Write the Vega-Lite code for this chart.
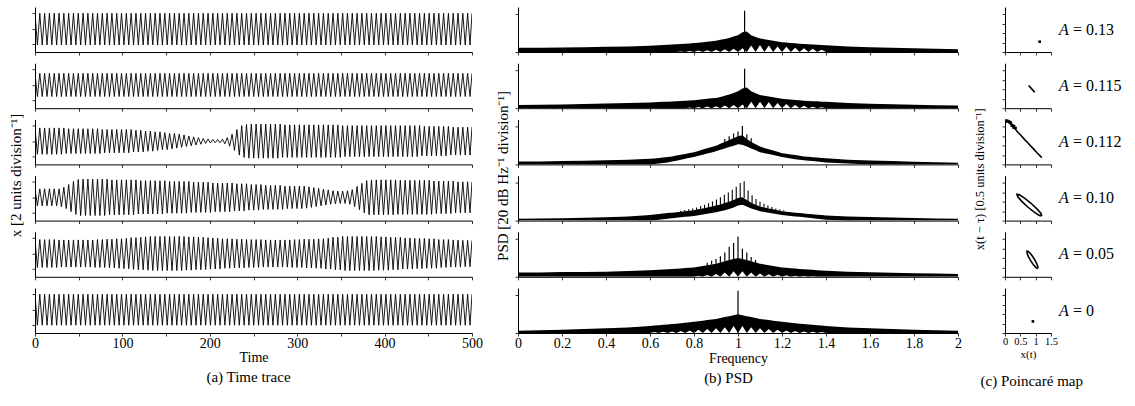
{
"padding":{"left":8,"top":7,"right":2,"bottom":2},
"config":{
"view":{"stroke":null},
"axis":{"domainColor":"black","domainWidth":1,"tickColor":"black","tickWidth":0.8,"tickSize":3,"grid":false,"labelFont":"Liberation Serif","labelFontSize":14,"labelColor":"black","labelFlush":false,"labelOverlap":false,"labelPadding":0,"titleFont":"Liberation Serif","titleFontSize":14,"titleFontWeight":"normal","titleColor":"black","titlePadding":0},
"title":{"font":"Liberation Serif","fontWeight":"normal","color":"black"}
},
"datasets":{
"tt":[
{"t":0,"a":2,"b":1.5,"c":1.7,"d":1.1,"e":1.8,"f":2},
{"t":2.75,"a":-2.1,"b":-1.5,"c":-1.7,"d":-1.1,"e":-1.8,"f":-2},
{"t":5.5,"a":2,"b":1.5,"c":1.7,"d":1.1,"e":1.8,"f":2},
{"t":8.25,"a":-2.1,"b":-1.5,"c":-1.7,"d":-1.1,"e":-1.8,"f":-2},
{"t":11,"a":2,"b":1.5,"c":1.7,"d":1.1,"e":1.8,"f":2},
{"t":13.75,"a":-2.1,"b":-1.5,"c":-1.7,"d":-1.1,"e":-1.8,"f":-2},
{"t":16.5,"a":2,"b":1.5,"c":1.7,"d":1.1,"e":1.8,"f":2},
{"t":19.25,"a":-2.1,"b":-1.5,"c":-1.7,"d":-1.1,"e":-1.8,"f":-2},
{"t":22,"a":2,"b":1.5,"c":1.7,"d":1.1,"e":1.8,"f":2},
{"t":24.75,"a":-2.1,"b":-1.5,"c":-1.7,"d":-1.1,"e":-1.8,"f":-2},
{"t":27.5,"a":2,"b":1.5,"c":1.7,"d":1.1,"e":1.75,"f":2},
{"t":30.25,"a":-2.1,"b":-1.5,"c":-1.7,"d":-1.2,"e":-1.75,"f":-2},
{"t":33,"a":2,"b":1.5,"c":1.7,"d":1.3,"e":1.75,"f":2},
{"t":35.75,"a":-2.1,"b":-1.5,"c":-1.6,"d":-1.45,"e":-1.75,"f":-2},
{"t":38.5,"a":2,"b":1.5,"c":1.6,"d":1.65,"e":1.75,"f":2},
{"t":41.25,"a":-2.1,"b":-1.5,"c":-1.6,"d":-1.85,"e":-1.75,"f":-2},
{"t":44,"a":2,"b":1.5,"c":1.6,"d":2.05,"e":1.75,"f":2},
{"t":46.75,"a":-2.1,"b":-1.5,"c":-1.6,"d":-2.2,"e":-1.75,"f":-2},
{"t":49.5,"a":2,"b":1.5,"c":1.6,"d":2.3,"e":1.75,"f":2},
{"t":52.25,"a":-2.1,"b":-1.5,"c":-1.6,"d":-2.35,"e":-1.75,"f":-2},
{"t":55,"a":2,"b":1.5,"c":1.6,"d":2.35,"e":1.75,"f":2},
{"t":57.75,"a":-2.1,"b":-1.5,"c":-1.6,"d":-2.35,"e":-1.75,"f":-2},
{"t":60.5,"a":2,"b":1.5,"c":1.6,"d":2.35,"e":1.75,"f":2},
{"t":63.25,"a":-2.1,"b":-1.5,"c":-1.6,"d":-2.35,"e":-1.75,"f":-2},
{"t":66,"a":2,"b":1.5,"c":1.6,"d":2.35,"e":1.75,"f":2},
{"t":68.75,"a":-2.1,"b":-1.5,"c":-1.6,"d":-2.35,"e":-1.8,"f":-2},
{"t":71.5,"a":2,"b":1.5,"c":1.6,"d":2.35,"e":1.8,"f":2},
{"t":74.25,"a":-2.1,"b":-1.5,"c":-1.6,"d":-2.35,"e":-1.8,"f":-2},
{"t":77,"a":2,"b":1.5,"c":1.5,"d":2.35,"e":1.8,"f":2},
{"t":79.75,"a":-2.1,"b":-1.5,"c":-1.5,"d":-2.35,"e":-1.8,"f":-2},
{"t":82.5,"a":2,"b":1.5,"c":1.5,"d":2.35,"e":1.85,"f":2},
{"t":85.25,"a":-2.1,"b":-1.5,"c":-1.5,"d":-2.25,"e":-1.85,"f":-2},
{"t":88,"a":2,"b":1.5,"c":1.5,"d":2.25,"e":1.85,"f":2},
{"t":90.75,"a":-2.1,"b":-1.5,"c":-1.5,"d":-2.25,"e":-1.85,"f":-2},
{"t":93.5,"a":2,"b":1.5,"c":1.5,"d":2.25,"e":1.9,"f":2},
{"t":96.25,"a":-2.1,"b":-1.5,"c":-1.5,"d":-2.25,"e":-1.9,"f":-2},
{"t":99,"a":2,"b":1.5,"c":1.5,"d":2.25,"e":1.9,"f":2},
{"t":101.75,"a":-2.1,"b":-1.5,"c":-1.5,"d":-2.25,"e":-1.95,"f":-2},
{"t":104.5,"a":2,"b":1.5,"c":1.5,"d":2.25,"e":1.95,"f":2},
{"t":107.25,"a":-2.1,"b":-1.5,"c":-1.5,"d":-2.25,"e":-1.95,"f":-2},
{"t":110,"a":2,"b":1.5,"c":1.5,"d":2.25,"e":2.05,"f":2},
{"t":112.75,"a":-2.1,"b":-1.5,"c":-1.4,"d":-2.25,"e":-2.05,"f":-2},
{"t":115.5,"a":2,"b":1.5,"c":1.4,"d":2.25,"e":2.05,"f":2},
{"t":118.25,"a":-2.1,"b":-1.5,"c":-1.4,"d":-2.15,"e":-2.1,"f":-2},
{"t":121,"a":2,"b":1.5,"c":1.4,"d":2.15,"e":2.1,"f":2},
{"t":123.75,"a":-2.1,"b":-1.5,"c":-1.4,"d":-2.15,"e":-2.1,"f":-2},
{"t":126.5,"a":2,"b":1.5,"c":1.3,"d":2.15,"e":2.15,"f":2},
{"t":129.25,"a":-2.1,"b":-1.5,"c":-1.3,"d":-2.15,"e":-2.15,"f":-2},
{"t":132,"a":2,"b":1.5,"c":1.3,"d":2.15,"e":2.2,"f":2},
{"t":134.75,"a":-2.1,"b":-1.5,"c":-1.3,"d":-2.15,"e":-2.2,"f":-2},
{"t":137.5,"a":2,"b":1.5,"c":1.2,"d":2.15,"e":2.2,"f":2},
{"t":140.25,"a":-2.1,"b":-1.5,"c":-1.2,"d":-2.15,"e":-2.2,"f":-2},
{"t":143,"a":2,"b":1.5,"c":1.2,"d":2.15,"e":2.2,"f":2},
{"t":145.75,"a":-2.1,"b":-1.5,"c":-1.1,"d":-2.15,"e":-2.2,"f":-2},
{"t":148.5,"a":2,"b":1.5,"c":1.1,"d":2.15,"e":2.2,"f":2},
{"t":151.25,"a":-2.1,"b":-1.5,"c":-1.1,"d":-2.05,"e":-2.2,"f":-2},
{"t":154,"a":2,"b":1.5,"c":1,"d":2.05,"e":2.2,"f":2},
{"t":156.75,"a":-2.1,"b":-1.5,"c":-1,"d":-2.05,"e":-2.2,"f":-2},
{"t":159.5,"a":2,"b":1.5,"c":1,"d":2.05,"e":2.2,"f":2},
{"t":162.25,"a":-2.1,"b":-1.5,"c":-0.9,"d":-2.05,"e":-2.2,"f":-2},
{"t":165,"a":2,"b":1.5,"c":0.9,"d":2.05,"e":2.2,"f":2},
{"t":167.75,"a":-2.1,"b":-1.5,"c":-0.8,"d":-2.05,"e":-2.2,"f":-2},
{"t":170.5,"a":2,"b":1.5,"c":0.8,"d":2.05,"e":2.2,"f":2},
{"t":173.25,"a":-2.1,"b":-1.5,"c":-0.7,"d":-2.05,"e":-2.15,"f":-2},
{"t":176,"a":2,"b":1.5,"c":0.65,"d":2.05,"e":2.15,"f":2},
{"t":178.75,"a":-2.1,"b":-1.5,"c":-0.6,"d":-1.95,"e":-2.15,"f":-2},
{"t":181.5,"a":2,"b":1.5,"c":0.55,"d":1.95,"e":2.15,"f":2},
{"t":184.25,"a":-2.1,"b":-1.5,"c":-0.5,"d":-1.95,"e":-2.1,"f":-2},
{"t":187,"a":2,"b":1.5,"c":0.45,"d":1.95,"e":2.1,"f":2},
{"t":189.75,"a":-2.1,"b":-1.5,"c":-0.4,"d":-1.95,"e":-2.1,"f":-2},
{"t":192.5,"a":2,"b":1.5,"c":0.35,"d":1.95,"e":2.1,"f":2},
{"t":195.25,"a":-2.1,"b":-1.5,"c":-0.3,"d":-1.95,"e":-2.05,"f":-2},
{"t":198,"a":2,"b":1.5,"c":0.28,"d":1.95,"e":2.05,"f":2},
{"t":200.75,"a":-2.1,"b":-1.5,"c":-0.25,"d":-1.95,"e":-2,"f":-2},
{"t":203.5,"a":2,"b":1.5,"c":0.22,"d":1.85,"e":2,"f":2},
{"t":206.25,"a":-2.1,"b":-1.5,"c":-0.2,"d":-1.85,"e":-2,"f":-2},
{"t":209,"a":2,"b":1.5,"c":0.2,"d":1.85,"e":2,"f":2},
{"t":211.75,"a":-2.1,"b":-1.5,"c":-0.22,"d":-1.85,"e":-2,"f":-2},
{"t":214.5,"a":2,"b":1.5,"c":0.25,"d":1.85,"e":1.9,"f":2},
{"t":217.25,"a":-2.1,"b":-1.5,"c":-0.35,"d":-1.85,"e":-1.9,"f":-2},
{"t":220,"a":2,"b":1.5,"c":0.45,"d":1.85,"e":1.9,"f":2},
{"t":222.75,"a":-2.1,"b":-1.5,"c":-0.65,"d":-1.85,"e":-1.9,"f":-2},
{"t":225.5,"a":2,"b":1.5,"c":0.9,"d":1.85,"e":1.9,"f":2},
{"t":228.25,"a":-2.1,"b":-1.5,"c":-1.2,"d":-1.75,"e":-1.85,"f":-2},
{"t":231,"a":2,"b":1.5,"c":1.5,"d":1.75,"e":1.85,"f":2},
{"t":233.75,"a":-2.1,"b":-1.5,"c":-1.8,"d":-1.75,"e":-1.85,"f":-2},
{"t":236.5,"a":2,"b":1.5,"c":2,"d":1.75,"e":1.85,"f":2},
{"t":239.25,"a":-2.1,"b":-1.5,"c":-2.1,"d":-1.75,"e":-1.85,"f":-2},
{"t":242,"a":2,"b":1.5,"c":2.15,"d":1.75,"e":1.8,"f":2},
{"t":244.75,"a":-2.1,"b":-1.5,"c":-2.2,"d":-1.65,"e":-1.8,"f":-2},
{"t":247.5,"a":2,"b":1.5,"c":2.2,"d":1.65,"e":1.8,"f":2},
{"t":250.25,"a":-2.1,"b":-1.5,"c":-2.2,"d":-1.65,"e":-1.8,"f":-2},
{"t":253,"a":2,"b":1.5,"c":2.2,"d":1.65,"e":1.8,"f":2},
{"t":255.75,"a":-2.1,"b":-1.5,"c":-2.2,"d":-1.65,"e":-1.8,"f":-2},
{"t":258.5,"a":2,"b":1.5,"c":2.2,"d":1.65,"e":1.8,"f":2},
{"t":261.25,"a":-2.1,"b":-1.5,"c":-2.2,"d":-1.55,"e":-1.75,"f":-2},
{"t":264,"a":2,"b":1.5,"c":2.2,"d":1.55,"e":1.75,"f":2},
{"t":266.75,"a":-2.1,"b":-1.5,"c":-2.2,"d":-1.55,"e":-1.75,"f":-2},
{"t":269.5,"a":2,"b":1.5,"c":2.2,"d":1.55,"e":1.75,"f":2},
{"t":272.25,"a":-2.1,"b":-1.5,"c":-2.2,"d":-1.55,"e":-1.75,"f":-2},
{"t":275,"a":2,"b":1.5,"c":2.2,"d":1.55,"e":1.75,"f":2},
{"t":277.75,"a":-2.1,"b":-1.5,"c":-2.2,"d":-1.55,"e":-1.75,"f":-2},
{"t":280.5,"a":2,"b":1.5,"c":2.2,"d":1.55,"e":1.75,"f":2},
{"t":283.25,"a":-2.1,"b":-1.5,"c":-2.1,"d":-1.55,"e":-1.75,"f":-2},
{"t":286,"a":2,"b":1.5,"c":2.1,"d":1.45,"e":1.75,"f":2},
{"t":288.75,"a":-2.1,"b":-1.5,"c":-2.1,"d":-1.45,"e":-1.75,"f":-2},
{"t":291.5,"a":2,"b":1.5,"c":2.1,"d":1.45,"e":1.75,"f":2},
{"t":294.25,"a":-2.1,"b":-1.5,"c":-2.1,"d":-1.45,"e":-1.8,"f":-2},
{"t":297,"a":2,"b":1.5,"c":2.1,"d":1.45,"e":1.8,"f":2},
{"t":299.75,"a":-2.1,"b":-1.5,"c":-2.1,"d":-1.45,"e":-1.8,"f":-2},
{"t":302.5,"a":2,"b":1.5,"c":2.1,"d":1.45,"e":1.8,"f":2},
{"t":305.25,"a":-2.1,"b":-1.5,"c":-2.1,"d":-1.45,"e":-1.8,"f":-2},
{"t":308,"a":2,"b":1.5,"c":2.1,"d":1.45,"e":1.85,"f":2},
{"t":310.75,"a":-2.1,"b":-1.5,"c":-2.1,"d":-1.4,"e":-1.85,"f":-2},
{"t":313.5,"a":2,"b":1.5,"c":2.1,"d":1.35,"e":1.85,"f":2},
{"t":316.25,"a":-2.1,"b":-1.5,"c":-2.1,"d":-1.3,"e":-1.85,"f":-2},
{"t":319,"a":2,"b":1.5,"c":2.1,"d":1.25,"e":1.85,"f":2},
{"t":321.75,"a":-2.1,"b":-1.5,"c":-2.1,"d":-1.2,"e":-1.9,"f":-2},
{"t":324.5,"a":2,"b":1.5,"c":2.1,"d":1.15,"e":1.9,"f":2},
{"t":327.25,"a":-2.1,"b":-1.5,"c":-2.1,"d":-1.1,"e":-1.9,"f":-2},
{"t":330,"a":2,"b":1.5,"c":2.1,"d":1.05,"e":1.9,"f":2},
{"t":332.75,"a":-2.1,"b":-1.5,"c":-2.1,"d":-1,"e":-2,"f":-2},
{"t":335.5,"a":2,"b":1.5,"c":2.1,"d":0.95,"e":2,"f":2},
{"t":338.25,"a":-2.1,"b":-1.5,"c":-2.1,"d":-0.9,"e":-2,"f":-2},
{"t":341,"a":2,"b":1.5,"c":2.1,"d":0.85,"e":2.1,"f":2},
{"t":343.75,"a":-2.1,"b":-1.5,"c":-2.1,"d":-0.85,"e":-2.1,"f":-2},
{"t":346.5,"a":2,"b":1.5,"c":2.1,"d":0.8,"e":2.1,"f":2},
{"t":349.25,"a":-2.1,"b":-1.5,"c":-2.1,"d":-0.8,"e":-2.1,"f":-2},
{"t":352,"a":2,"b":1.5,"c":2,"d":0.8,"e":2.2,"f":2},
{"t":354.75,"a":-2.1,"b":-1.5,"c":-2,"d":-0.8,"e":-2.2,"f":-2},
{"t":357.5,"a":2,"b":1.5,"c":2,"d":0.85,"e":2.2,"f":2},
{"t":360.25,"a":-2.1,"b":-1.5,"c":-2,"d":-0.9,"e":-2.2,"f":-2},
{"t":363,"a":2,"b":1.5,"c":2,"d":1,"e":2.2,"f":2},
{"t":365.75,"a":-2.1,"b":-1.5,"c":-2,"d":-1.2,"e":-2.2,"f":-2},
{"t":368.5,"a":2,"b":1.5,"c":2,"d":1.4,"e":2.2,"f":2},
{"t":371.25,"a":-2.1,"b":-1.5,"c":-2,"d":-1.6,"e":-2.2,"f":-2},
{"t":374,"a":2,"b":1.5,"c":2,"d":1.8,"e":2.2,"f":2},
{"t":376.75,"a":-2.1,"b":-1.5,"c":-2,"d":-2,"e":-2.2,"f":-2},
{"t":379.5,"a":2,"b":1.5,"c":2,"d":2.15,"e":2.2,"f":2},
{"t":382.25,"a":-2.1,"b":-1.5,"c":-2,"d":-2.25,"e":-2.2,"f":-2},
{"t":385,"a":2,"b":1.5,"c":2,"d":2.25,"e":2.2,"f":2},
{"t":387.75,"a":-2.1,"b":-1.5,"c":-2,"d":-2.25,"e":-2.2,"f":-2},
{"t":390.5,"a":2,"b":1.5,"c":2,"d":2.25,"e":2.2,"f":2},
{"t":393.25,"a":-2.1,"b":-1.5,"c":-2,"d":-2.25,"e":-2.15,"f":-2},
{"t":396,"a":2,"b":1.5,"c":2,"d":2.25,"e":2.15,"f":2},
{"t":398.75,"a":-2.1,"b":-1.5,"c":-2,"d":-2.25,"e":-2.15,"f":-2},
{"t":401.5,"a":2,"b":1.5,"c":2,"d":2.25,"e":2.15,"f":2},
{"t":404.25,"a":-2.1,"b":-1.5,"c":-2,"d":-2.25,"e":-2.15,"f":-2},
{"t":407,"a":2,"b":1.5,"c":2,"d":2.25,"e":2.1,"f":2},
{"t":409.75,"a":-2.1,"b":-1.5,"c":-2,"d":-2.25,"e":-2.1,"f":-2},
{"t":412.5,"a":2,"b":1.5,"c":2,"d":2.25,"e":2.1,"f":2},
{"t":415.25,"a":-2.1,"b":-1.5,"c":-2,"d":-2.2,"e":-2.1,"f":-2},
{"t":418,"a":2,"b":1.5,"c":2,"d":2.2,"e":2.1,"f":2},
{"t":420.75,"a":-2.1,"b":-1.5,"c":-2,"d":-2.2,"e":-2,"f":-2},
{"t":423.5,"a":2,"b":1.5,"c":2,"d":2.2,"e":2,"f":2},
{"t":426.25,"a":-2.1,"b":-1.5,"c":-2,"d":-2.2,"e":-2,"f":-2},
{"t":429,"a":2,"b":1.5,"c":2,"d":2.2,"e":2,"f":2},
{"t":431.75,"a":-2.1,"b":-1.5,"c":-2,"d":-2.2,"e":-2,"f":-2},
{"t":434.5,"a":2,"b":1.5,"c":2,"d":2.2,"e":1.95,"f":2},
{"t":437.25,"a":-2.1,"b":-1.5,"c":-2,"d":-2.2,"e":-1.95,"f":-2},
{"t":440,"a":2,"b":1.5,"c":2,"d":2.2,"e":1.95,"f":2},
{"t":442.75,"a":-2.1,"b":-1.5,"c":-1.9,"d":-2.2,"e":-1.95,"f":-2},
{"t":445.5,"a":2,"b":1.5,"c":1.9,"d":2.2,"e":1.95,"f":2},
{"t":448.25,"a":-2.1,"b":-1.5,"c":-1.9,"d":-2.2,"e":-1.9,"f":-2},
{"t":451,"a":2,"b":1.5,"c":1.9,"d":2.2,"e":1.9,"f":2},
{"t":453.75,"a":-2.1,"b":-1.5,"c":-1.9,"d":-2.2,"e":-1.9,"f":-2},
{"t":456.5,"a":2,"b":1.5,"c":1.9,"d":2.1,"e":1.9,"f":2},
{"t":459.25,"a":-2.1,"b":-1.5,"c":-1.9,"d":-2.1,"e":-1.9,"f":-2},
{"t":462,"a":2,"b":1.5,"c":1.9,"d":2.1,"e":1.8,"f":2},
{"t":464.75,"a":-2.1,"b":-1.5,"c":-1.9,"d":-2.1,"e":-1.8,"f":-2},
{"t":467.5,"a":2,"b":1.5,"c":1.9,"d":2.1,"e":1.8,"f":2},
{"t":470.25,"a":-2.1,"b":-1.5,"c":-1.9,"d":-2.1,"e":-1.8,"f":-2},
{"t":473,"a":2,"b":1.5,"c":1.9,"d":2.1,"e":1.8,"f":2},
{"t":475.75,"a":-2.1,"b":-1.5,"c":-1.8,"d":-2.1,"e":-1.75,"f":-2},
{"t":478.5,"a":2,"b":1.5,"c":1.8,"d":2.1,"e":1.75,"f":2},
{"t":481.25,"a":-2.1,"b":-1.5,"c":-1.8,"d":-2,"e":-1.75,"f":-2},
{"t":484,"a":2,"b":1.5,"c":1.8,"d":2,"e":1.75,"f":2},
{"t":486.75,"a":-2.1,"b":-1.5,"c":-1.8,"d":-2,"e":-1.75,"f":-2},
{"t":489.5,"a":2,"b":1.5,"c":1.8,"d":2,"e":1.7,"f":2},
{"t":492.25,"a":-2.1,"b":-1.5,"c":-1.8,"d":-2,"e":-1.7,"f":-2},
{"t":495,"a":2,"b":1.5,"c":1.8,"d":2,"e":1.7,"f":2},
{"t":497.75,"a":-2.1,"b":-1.5,"c":-1.8,"d":-2,"e":-1.7,"f":-2},
{"t":500,"a":2,"b":1.5,"c":1.8,"d":2,"e":1.7,"f":2}
],
"ps":[
{"f":0,"l1":0,"h1":0.45,"l2":0,"h2":0.35,"l3":0,"h3":0.3,"l4":0,"h4":0.2,"l5":0,"h5":0.45,"l6":0,"h6":0.25},
{"f":0.1,"l1":0,"h1":0.45,"l2":0,"h2":0.37,"l3":0,"h3":0.32,"l4":0,"h4":0.22,"l5":0,"h5":0.47,"l6":0,"h6":0.3},
{"f":0.2,"l1":0,"h1":0.47,"l2":0,"h2":0.4,"l3":0,"h3":0.35,"l4":0,"h4":0.25,"l5":0,"h5":0.5,"l6":0,"h6":0.35},
{"f":0.3,"l1":0,"h1":0.5,"l2":0,"h2":0.45,"l3":0,"h3":0.4,"l4":0,"h4":0.3,"l5":0,"h5":0.52,"l6":0,"h6":0.42},
{"f":0.4,"l1":0,"h1":0.55,"l2":0,"h2":0.5,"l3":0,"h3":0.45,"l4":0,"h4":0.35,"l5":0,"h5":0.55,"l6":0,"h6":0.5},
{"f":0.5,"l1":0,"h1":0.6,"l2":0,"h2":0.55,"l3":0,"h3":0.5,"l4":0,"h4":0.45,"l5":0,"h5":0.62,"l6":0,"h6":0.6},
{"f":0.6,"l1":0,"h1":0.68,"l2":0,"h2":0.62,"l3":0,"h3":0.6,"l4":0,"h4":0.6,"l5":0,"h5":0.7,"l6":0,"h6":0.75},
{"f":0.62,"l1":0,"h1":0.7,"l2":0,"h2":0.64,"l3":0.05,"h3":0.64,"l4":0.05,"h4":0.65,"l5":0,"h5":0.72,"l6":0.1,"h6":0.79},
{"f":0.64,"l1":0,"h1":0.73,"l2":0,"h2":0.66,"l3":0.1,"h3":0.69,"l4":0.1,"h4":0.7,"l5":0,"h5":0.75,"l6":0,"h6":0.83},
{"f":0.66,"l1":0,"h1":0.75,"l2":0,"h2":0.68,"l3":0.15,"h3":0.74,"l4":0.15,"h4":0.75,"l5":0,"h5":0.77,"l6":0.13,"h6":0.87},
{"f":0.68,"l1":0,"h1":0.78,"l2":0,"h2":0.7,"l3":0.2,"h3":0.8,"l4":0.2,"h4":0.8,"l5":0,"h5":0.8,"l6":0,"h6":0.91},
{"f":0.7,"l1":0,"h1":0.8,"l2":0,"h2":0.72,"l3":0.3,"h3":0.85,"l4":0.25,"h4":0.85,"l5":0,"h5":0.82,"l6":0.17,"h6":0.95},
{"f":0.72,"l1":0,"h1":0.83,"l2":0,"h2":0.75,"l3":0.4,"h3":0.94,"l4":0.3,"h4":0.9,"l5":0,"h5":0.86,"l6":0,"h6":1},
{"f":0.74,"l1":0.05,"h1":0.86,"l2":0,"h2":0.77,"l3":0.5,"h3":1.03,"l4":0.35,"h4":0.95,"l5":0,"h5":0.89,"l6":0.22,"h6":1.05},
{"f":0.76,"l1":0,"h1":0.89,"l2":0,"h2":0.8,"l3":0.6,"h3":1.12,"l4":0.4,"h4":1,"l5":0,"h5":0.93,"l6":0,"h6":1.1},
{"f":0.78,"l1":0.1,"h1":0.92,"l2":0.08,"h2":0.82,"l3":0.7,"h3":1.21,"l4":0.45,"h4":1.05,"l5":0,"h5":0.96,"l6":0.28,"h6":1.15},
{"f":0.8,"l1":0,"h1":0.95,"l2":0,"h2":0.85,"l3":0.8,"h3":1.3,"l4":0.5,"h4":1.1,"l5":0,"h5":1,"l6":0,"h6":1.2},
{"f":0.82,"l1":0.15,"h1":1,"l2":0.12,"h2":0.9,"l3":0.92,"h3":1.44,"l4":0.58,"h4":1.2,"l5":0.1,"h5":1.08,"l6":0.35,"h6":1.26},
{"f":0.84,"l1":0,"h1":1.05,"l2":0,"h2":0.95,"l3":1.04,"h3":1.58,"l4":0.66,"h4":1.3,"l5":0,"h5":1.16,"l6":0,"h6":1.32},
{"f":0.86,"l1":0.2,"h1":1.1,"l2":0.18,"h2":1,"l3":1.16,"h3":1.72,"l4":0.74,"h4":1.4,"l5":0.2,"h5":1.24,"l6":0.43,"h6":1.38},
{"f":0.88,"l1":0,"h1":1.15,"l2":0,"h2":1.05,"l3":1.28,"h3":1.86,"l4":0.82,"h4":1.5,"l5":0,"h5":1.32,"l6":0,"h6":1.44},
{"f":0.9,"l1":0.25,"h1":1.2,"l2":0.22,"h2":1.1,"l3":1.4,"h3":2,"l4":0.9,"h4":1.6,"l5":0.3,"h5":1.4,"l6":0.52,"h6":1.5},
{"f":0.92,"l1":0,"h1":1.3,"l2":0,"h2":1.2,"l3":1.55,"h3":2.2,"l4":1,"h4":1.73,"l5":0,"h5":1.53,"l6":0,"h6":1.6},
{"f":0.94,"l1":0.3,"h1":1.4,"l2":0.28,"h2":1.32,"l3":1.7,"h3":2.4,"l4":1.1,"h4":1.87,"l5":0.45,"h5":1.67,"l6":0.62,"h6":1.7},
{"f":0.96,"l1":0,"h1":1.5,"l2":0,"h2":1.45,"l3":1.85,"h3":2.6,"l4":1.25,"h4":2,"l5":0,"h5":1.8,"l6":0,"h6":1.8},
{"f":0.98,"l1":0.35,"h1":1.65,"l2":0.35,"h2":1.62,"l3":2,"h3":2.8,"l4":1.4,"h4":2.2,"l5":0.6,"h5":1.9,"l6":0.75,"h6":1.9},
{"f":1,"l1":0,"h1":1.8,"l2":0,"h2":1.8,"l3":2.15,"h3":3,"l4":1.6,"h4":2.4,"l5":0,"h5":2,"l6":0,"h6":2},
{"f":1.02,"l1":0.4,"h1":2.1,"l2":0.4,"h2":2.1,"l3":2.1,"h3":3.1,"l4":1.7,"h4":2.5,"l5":0.6,"h5":1.9,"l6":0.75,"h6":1.9},
{"f":1.04,"l1":0,"h1":2.2,"l2":0,"h2":2.2,"l3":1.9,"h3":2.7,"l4":1.5,"h4":2.2,"l5":0,"h5":1.8,"l6":0,"h6":1.8},
{"f":1.06,"l1":0.7,"h1":1.8,"l2":0.7,"h2":1.8,"l3":1.7,"h3":2.4,"l4":1.3,"h4":1.9,"l5":0.45,"h5":1.67,"l6":0.62,"h6":1.7},
{"f":1.08,"l1":0,"h1":1.6,"l2":0,"h2":1.6,"l3":1.5,"h3":2.15,"l4":1.15,"h4":1.7,"l5":0,"h5":1.53,"l6":0,"h6":1.6},
{"f":1.1,"l1":0.75,"h1":1.45,"l2":0.7,"h2":1.4,"l3":1.3,"h3":1.9,"l4":1,"h4":1.5,"l5":0.35,"h5":1.4,"l6":0.52,"h6":1.5},
{"f":1.12,"l1":0,"h1":1.37,"l2":0,"h2":1.32,"l3":1.2,"h3":1.76,"l4":0.92,"h4":1.4,"l5":0,"h5":1.32,"l6":0,"h6":1.44},
{"f":1.14,"l1":0.7,"h1":1.29,"l2":0.65,"h2":1.24,"l3":1.1,"h3":1.62,"l4":0.84,"h4":1.3,"l5":0.28,"h5":1.24,"l6":0.43,"h6":1.38},
{"f":1.16,"l1":0,"h1":1.21,"l2":0,"h2":1.16,"l3":1,"h3":1.48,"l4":0.76,"h4":1.2,"l5":0,"h5":1.16,"l6":0,"h6":1.32},
{"f":1.18,"l1":0.6,"h1":1.13,"l2":0.55,"h2":1.08,"l3":0.9,"h3":1.34,"l4":0.68,"h4":1.1,"l5":0.22,"h5":1.08,"l6":0.35,"h6":1.26},
{"f":1.2,"l1":0,"h1":1.05,"l2":0,"h2":1,"l3":0.8,"h3":1.2,"l4":0.6,"h4":1,"l5":0,"h5":1,"l6":0,"h6":1.2},
{"f":1.22,"l1":0.55,"h1":1.01,"l2":0.45,"h2":0.96,"l3":0.72,"h3":1.13,"l4":0.55,"h4":0.95,"l5":0.16,"h5":0.96,"l6":0.28,"h6":1.15},
{"f":1.24,"l1":0,"h1":0.97,"l2":0,"h2":0.92,"l3":0.64,"h3":1.06,"l4":0.5,"h4":0.9,"l5":0,"h5":0.92,"l6":0,"h6":1.1},
{"f":1.26,"l1":0.45,"h1":0.93,"l2":0.35,"h2":0.88,"l3":0.56,"h3":0.99,"l4":0.45,"h4":0.85,"l5":0.12,"h5":0.88,"l6":0.22,"h6":1.05},
{"f":1.28,"l1":0,"h1":0.89,"l2":0,"h2":0.84,"l3":0.5,"h3":0.92,"l4":0.4,"h4":0.8,"l5":0,"h5":0.84,"l6":0,"h6":1},
{"f":1.3,"l1":0.4,"h1":0.85,"l2":0.25,"h2":0.8,"l3":0.45,"h3":0.85,"l4":0.35,"h4":0.75,"l5":0.08,"h5":0.8,"l6":0.17,"h6":0.95},
{"f":1.32,"l1":0,"h1":0.82,"l2":0,"h2":0.78,"l3":0.4,"h3":0.81,"l4":0.3,"h4":0.71,"l5":0,"h5":0.77,"l6":0,"h6":0.91},
{"f":1.34,"l1":0.35,"h1":0.8,"l2":0.15,"h2":0.75,"l3":0.35,"h3":0.77,"l4":0.25,"h4":0.67,"l5":0.05,"h5":0.74,"l6":0.13,"h6":0.87},
{"f":1.36,"l1":0,"h1":0.77,"l2":0,"h2":0.73,"l3":0.3,"h3":0.73,"l4":0.2,"h4":0.63,"l5":0,"h5":0.71,"l6":0,"h6":0.83},
{"f":1.38,"l1":0.25,"h1":0.75,"l2":0.1,"h2":0.7,"l3":0.25,"h3":0.69,"l4":0.15,"h4":0.59,"l5":0,"h5":0.68,"l6":0.1,"h6":0.79},
{"f":1.4,"l1":0,"h1":0.72,"l2":0,"h2":0.68,"l3":0.2,"h3":0.65,"l4":0.1,"h4":0.55,"l5":0,"h5":0.65,"l6":0,"h6":0.75},
{"f":1.5,"l1":0,"h1":0.6,"l2":0,"h2":0.55,"l3":0.1,"h3":0.5,"l4":0,"h4":0.45,"l5":0,"h5":0.55,"l6":0,"h6":0.6},
{"f":1.6,"l1":0,"h1":0.52,"l2":0,"h2":0.48,"l3":0,"h3":0.42,"l4":0,"h4":0.38,"l5":0,"h5":0.48,"l6":0,"h6":0.5},
{"f":1.7,"l1":0,"h1":0.45,"l2":0,"h2":0.42,"l3":0,"h3":0.35,"l4":0,"h4":0.32,"l5":0,"h5":0.42,"l6":0,"h6":0.42},
{"f":1.8,"l1":0,"h1":0.4,"l2":0,"h2":0.37,"l3":0,"h3":0.28,"l4":0,"h4":0.27,"l5":0,"h5":0.38,"l6":0,"h6":0.35},
{"f":1.9,"l1":0,"h1":0.35,"l2":0,"h2":0.32,"l3":0,"h3":0.22,"l4":0,"h4":0.22,"l5":0,"h5":0.34,"l6":0,"h6":0.3},
{"f":2,"l1":0,"h1":0.3,"l2":0,"h2":0.28,"l3":0,"h3":0.18,"l4":0,"h4":0.2,"l5":0,"h5":0.3,"l6":0,"h6":0.25}
],
"sp":[
{"p":1,"f":1.03,"y":0,"z":4.4},
{"p":2,"f":1.03,"y":0,"z":4.2},
{"p":3,"f":1.02,"y":2.1,"z":4.1},{"p":3,"f":0.94,"y":1.8,"z":2.7},{"p":3,"f":0.96,"y":2,"z":3},{"p":3,"f":0.98,"y":2.2,"z":3.3},{"p":3,"f":1,"y":2.3,"z":3.5},{"p":3,"f":1.04,"y":2,"z":3.2},{"p":3,"f":1.06,"y":1.8,"z":2.8},
{"p":4,"f":0.74,"y":0.9,"z":1.05},{"p":4,"f":0.758,"y":0.95,"z":1.12},{"p":4,"f":0.776,"y":1,"z":1.2},{"p":4,"f":0.794,"y":1.05,"z":1.3},{"p":4,"f":0.812,"y":1.1,"z":1.4},{"p":4,"f":0.83,"y":1.2,"z":1.55},{"p":4,"f":0.848,"y":1.3,"z":1.7},{"p":4,"f":0.866,"y":1.4,"z":1.85},{"p":4,"f":0.884,"y":1.45,"z":2.05},{"p":4,"f":0.902,"y":1.55,"z":2.25},{"p":4,"f":0.92,"y":1.7,"z":2.5},{"p":4,"f":0.938,"y":1.8,"z":2.75},{"p":4,"f":0.956,"y":1.95,"z":3},{"p":4,"f":0.974,"y":2.1,"z":3.3},{"p":4,"f":0.992,"y":2.3,"z":3.6},{"p":4,"f":1.01,"y":2.4,"z":4},{"p":4,"f":1.028,"y":2.4,"z":4.2},{"p":4,"f":1.046,"y":2.1,"z":3.2},{"p":4,"f":1.064,"y":1.85,"z":2.7},{"p":4,"f":1.082,"y":1.65,"z":2.3},{"p":4,"f":1.1,"y":1.5,"z":2},{"p":4,"f":1.118,"y":1.4,"z":1.8},{"p":4,"f":1.136,"y":1.3,"z":1.6},{"p":4,"f":1.154,"y":1.2,"z":1.45},{"p":4,"f":1.172,"y":1.1,"z":1.3},{"p":4,"f":1.19,"y":1.05,"z":1.2},{"p":4,"f":1.208,"y":1,"z":1.1},
{"p":5,"f":0.86,"y":1.2,"z":1.5},{"p":5,"f":0.88,"y":1.3,"z":1.7},{"p":5,"f":0.9,"y":1.4,"z":1.9},{"p":5,"f":0.92,"y":1.5,"z":2.2},{"p":5,"f":0.94,"y":1.65,"z":2.6},{"p":5,"f":0.96,"y":1.8,"z":3.2},{"p":5,"f":0.98,"y":1.9,"z":3.6},{"p":5,"f":1,"y":2,"z":4.3},{"p":5,"f":1.02,"y":1.9,"z":3},{"p":5,"f":1.04,"y":1.8,"z":2.6},{"p":5,"f":1.06,"y":1.65,"z":2.1},{"p":5,"f":1.08,"y":1.5,"z":1.8},
{"p":6,"f":1,"y":0,"z":4.5}
],
"pc":[
{"p":1,"m":"s","o":0,"x":1.13,"y":0.55},
{"p":2,"m":"l","o":0,"x":0.77,"y":1.21},{"p":2,"m":"l","o":1,"x":0.87,"y":1.03},{"p":2,"m":"l","o":2,"x":0.97,"y":0.85},
{"p":3,"m":"l","o":0,"x":0.02,"y":2.42},{"p":3,"m":"l","o":1,"x":0.05,"y":2.36},{"p":3,"m":"l","o":2,"x":0.08,"y":2.33},{"p":3,"m":"l","o":3,"x":0.1,"y":2.3},{"p":3,"m":"l","o":4,"x":0.13,"y":2.22},{"p":3,"m":"l","o":5,"x":0.16,"y":2.2},{"p":3,"m":"l","o":6,"x":0.18,"y":2.14},{"p":3,"m":"l","o":7,"x":0.21,"y":2.12},{"p":3,"m":"l","o":8,"x":0.24,"y":2.02},{"p":3,"m":"l","o":9,"x":0.27,"y":2},{"p":3,"m":"l","o":10,"x":0.3,"y":1.93},{"p":3,"m":"l","o":11,"x":0.33,"y":1.9},{"p":3,"m":"l","o":12,"x":0.36,"y":1.83},{"p":3,"m":"l","o":13,"x":0.4,"y":1.75},{"p":3,"m":"l","o":14,"x":0.45,"y":1.66},{"p":3,"m":"l","o":15,"x":0.5,"y":1.58},{"p":3,"m":"l","o":16,"x":0.55,"y":1.49},{"p":3,"m":"l","o":17,"x":0.6,"y":1.4},{"p":3,"m":"l","o":18,"x":0.65,"y":1.31},{"p":3,"m":"l","o":19,"x":0.7,"y":1.23},{"p":3,"m":"l","o":20,"x":0.75,"y":1.14},{"p":3,"m":"l","o":21,"x":0.8,"y":1.05},{"p":3,"m":"l","o":22,"x":0.85,"y":0.96},{"p":3,"m":"l","o":23,"x":0.9,"y":0.88},{"p":3,"m":"l","o":24,"x":0.95,"y":0.79},{"p":3,"m":"l","o":25,"x":1,"y":0.7},{"p":3,"m":"l","o":26,"x":1.05,"y":0.61},{"p":3,"m":"l","o":27,"x":1.1,"y":0.53},{"p":3,"m":"l","o":28,"x":1.15,"y":0.44},{"p":3,"m":"l","o":29,"x":1.2,"y":0.36},
{"p":3,"m":"s","o":0,"x":0.04,"y":2.38},{"p":3,"m":"s","o":1,"x":0.08,"y":2.38},{"p":3,"m":"s","o":2,"x":0.12,"y":2.3},{"p":3,"m":"s","o":3,"x":0.15,"y":2.28},{"p":3,"m":"s","o":4,"x":0.2,"y":2.22},{"p":3,"m":"s","o":5,"x":0.22,"y":2.05},{"p":3,"m":"s","o":6,"x":0.25,"y":2.1},{"p":3,"m":"s","o":7,"x":0.28,"y":1.95},{"p":3,"m":"s","o":8,"x":0.3,"y":2.05},{"p":3,"m":"s","o":9,"x":0.35,"y":1.95},{"p":3,"m":"s","o":10,"x":0.06,"y":2.28},{"p":3,"m":"s","o":11,"x":0.18,"y":2.25},
{"p":4,"m":"l","o":0,"x":1.2,"y":0.25},{"p":4,"m":"l","o":1,"x":1.173,"y":0.377},{"p":4,"m":"l","o":2,"x":1.043,"y":0.624},{"p":4,"m":"l","o":3,"x":0.848,"y":0.925},{"p":4,"m":"l","o":4,"x":0.638,"y":1.2},{"p":4,"m":"l","o":5,"x":0.471,"y":1.373},{"p":4,"m":"l","o":6,"x":0.39,"y":1.4},{"p":4,"m":"l","o":7,"x":0.417,"y":1.273},{"p":4,"m":"l","o":8,"x":0.547,"y":1.026},{"p":4,"m":"l","o":9,"x":0.742,"y":0.725},{"p":4,"m":"l","o":10,"x":0.952,"y":0.451},{"p":4,"m":"l","o":11,"x":1.119,"y":0.277},{"p":4,"m":"l","o":12,"x":1.2,"y":0.25},
{"p":5,"m":"l","o":0,"x":1.07,"y":0.44},{"p":5,"m":"l","o":1,"x":1.074,"y":0.53},{"p":5,"m":"l","o":2,"x":1.03,"y":0.721},{"p":5,"m":"l","o":3,"x":0.95,"y":0.961},{"p":5,"m":"l","o":4,"x":0.855,"y":1.186},{"p":5,"m":"l","o":5,"x":0.771,"y":1.336},{"p":5,"m":"l","o":6,"x":0.72,"y":1.37},{"p":5,"m":"l","o":7,"x":0.716,"y":1.28},{"p":5,"m":"l","o":8,"x":0.76,"y":1.089},{"p":5,"m":"l","o":9,"x":0.84,"y":0.849},{"p":5,"m":"l","o":10,"x":0.935,"y":0.624},{"p":5,"m":"l","o":11,"x":1.019,"y":0.474},{"p":5,"m":"l","o":12,"x":1.07,"y":0.44},
{"p":6,"m":"s","o":0,"x":0.91,"y":0.62}
],
"lab":[
{"p":1,"x":1.76,"y":1.2,"a":"A","s":"= 0.13"},
{"p":2,"x":1.76,"y":1.2,"a":"A","s":"= 0.115"},
{"p":3,"x":1.76,"y":1.2,"a":"A","s":"= 0.112"},
{"p":4,"x":1.76,"y":1.2,"a":"A","s":"= 0.10"},
{"p":5,"x":1.76,"y":1.2,"a":"A","s":"= 0.05"},
{"p":6,"x":1.76,"y":1.2,"a":"A","s":"= 0"}
]
},
"hconcat":[
{"title":{"text":"(a) Time trace","orient":"bottom","anchor":"middle","fontSize":15,"offset":6,"dx":3},
"vconcat":[{"title":{"text":"x [2 units division⁻¹]","orient":"left","anchor":"middle","fontSize":15,"offset":8,"dx":10},
"spacing":7.2,
"vconcat":[
{"width":437,"height":45,"data":{"name":"tt"},"mark":{"type":"line","color":"black","strokeWidth":0.9,"clip":true},"encoding":{"x":{"field":"t","type":"quantitative","scale":{"domain":[0,500],"nice":false},"axis":{"values":[0,50,100,150,200,250,300,350,400,450,500],"labels":false,"title":null}},"y":{"field":"a","type":"quantitative","scale":{"domain":[-3,2.8],"nice":false,"zero":false},"axis":{"values":[-2,0,2],"labels":false,"title":null}}}},
{"width":437,"height":45,"data":{"name":"tt"},"mark":{"type":"line","color":"black","strokeWidth":0.9,"clip":true},"encoding":{"x":{"field":"t","type":"quantitative","scale":{"domain":[0,500],"nice":false},"axis":{"values":[0,50,100,150,200,250,300,350,400,450,500],"labels":false,"title":null}},"y":{"field":"b","type":"quantitative","scale":{"domain":[-3,2.8],"nice":false,"zero":false},"axis":{"values":[-2,0,2],"labels":false,"title":null}}}},
{"width":437,"height":45,"data":{"name":"tt"},"mark":{"type":"line","color":"black","strokeWidth":0.9,"clip":true},"encoding":{"x":{"field":"t","type":"quantitative","scale":{"domain":[0,500],"nice":false},"axis":{"values":[0,50,100,150,200,250,300,350,400,450,500],"labels":false,"title":null}},"y":{"field":"c","type":"quantitative","scale":{"domain":[-3,2.8],"nice":false,"zero":false},"axis":{"values":[-2,0,2],"labels":false,"title":null}}}},
{"width":437,"height":45,"data":{"name":"tt"},"mark":{"type":"line","color":"black","strokeWidth":0.9,"clip":true},"encoding":{"x":{"field":"t","type":"quantitative","scale":{"domain":[0,500],"nice":false},"axis":{"values":[0,50,100,150,200,250,300,350,400,450,500],"labels":false,"title":null}},"y":{"field":"d","type":"quantitative","scale":{"domain":[-3,2.8],"nice":false,"zero":false},"axis":{"values":[-2,0,2],"labels":false,"title":null}}}},
{"width":437,"height":45,"data":{"name":"tt"},"mark":{"type":"line","color":"black","strokeWidth":0.9,"clip":true},"encoding":{"x":{"field":"t","type":"quantitative","scale":{"domain":[0,500],"nice":false},"axis":{"values":[0,50,100,150,200,250,300,350,400,450,500],"labels":false,"title":null}},"y":{"field":"e","type":"quantitative","scale":{"domain":[-3,2.8],"nice":false,"zero":false},"axis":{"values":[-2,0,2],"labels":false,"title":null}}}},
{"width":437,"height":45,"data":{"name":"tt"},"mark":{"type":"line","color":"black","strokeWidth":0.9,"clip":true},"encoding":{"x":{"field":"t","type":"quantitative","scale":{"domain":[0,500],"nice":false},"axis":{"values":[0,50,100,150,200,250,300,350,400,450,500],"labelExpr":"datum.value % 100 == 0 ? datum.label : ''","format":"d","title":"Time"}},"y":{"field":"f","type":"quantitative","scale":{"domain":[-3,2.8],"nice":false,"zero":false},"axis":{"values":[-2,0,2],"labels":false,"title":null}}}}
]}]},
{"title":{"text":"(b) PSD","orient":"bottom","anchor":"middle","fontSize":15,"offset":6},
"vconcat":[{"title":{"text":"PSD [20 dB Hz⁻¹ division⁻¹]","orient":"left","anchor":"middle","fontSize":15,"offset":4,"dx":10},
"spacing":7.2,
"vconcat":[
{"width":440,"height":45,"encoding":{"x":{"field":"f","type":"quantitative","scale":{"domain":[0,2],"nice":false},"axis":{"values":[0,0.2,0.4,0.6,0.8,1,1.2,1.4,1.6,1.8,2],"labels":false,"title":null}}},"layer":[
{"data":{"name":"ps"},"mark":{"type":"area","color":"black","clip":true},"encoding":{"y":{"field":"l1","type":"quantitative","scale":{"domain":[0,4.8],"nice":false,"zero":false},"axis":{"values":[0,1,2,3,4],"labels":false,"title":null}},"y2":{"field":"h1"}}},
{"data":{"name":"sp"},"transform":[{"filter":"datum.p==1"}],"mark":{"type":"rule","color":"black","strokeWidth":1.2,"clip":true},"encoding":{"y":{"field":"y","type":"quantitative","title":null},"y2":{"field":"z"}}}]},
{"width":440,"height":45,"encoding":{"x":{"field":"f","type":"quantitative","scale":{"domain":[0,2],"nice":false},"axis":{"values":[0,0.2,0.4,0.6,0.8,1,1.2,1.4,1.6,1.8,2],"labels":false,"title":null}}},"layer":[
{"data":{"name":"ps"},"mark":{"type":"area","color":"black","clip":true},"encoding":{"y":{"field":"l2","type":"quantitative","scale":{"domain":[0,4.8],"nice":false,"zero":false},"axis":{"values":[0,1,2,3,4],"labels":false,"title":null}},"y2":{"field":"h2"}}},
{"data":{"name":"sp"},"transform":[{"filter":"datum.p==2"}],"mark":{"type":"rule","color":"black","strokeWidth":1.2,"clip":true},"encoding":{"y":{"field":"y","type":"quantitative","title":null},"y2":{"field":"z"}}}]},
{"width":440,"height":45,"encoding":{"x":{"field":"f","type":"quantitative","scale":{"domain":[0,2],"nice":false},"axis":{"values":[0,0.2,0.4,0.6,0.8,1,1.2,1.4,1.6,1.8,2],"labels":false,"title":null}}},"layer":[
{"data":{"name":"ps"},"mark":{"type":"area","color":"black","clip":true},"encoding":{"y":{"field":"l3","type":"quantitative","scale":{"domain":[0,4.8],"nice":false,"zero":false},"axis":{"values":[0,1,2,3,4],"labels":false,"title":null}},"y2":{"field":"h3"}}},
{"data":{"name":"sp"},"transform":[{"filter":"datum.p==3"}],"mark":{"type":"rule","color":"black","strokeWidth":1.2,"clip":true},"encoding":{"y":{"field":"y","type":"quantitative","title":null},"y2":{"field":"z"}}}]},
{"width":440,"height":45,"encoding":{"x":{"field":"f","type":"quantitative","scale":{"domain":[0,2],"nice":false},"axis":{"values":[0,0.2,0.4,0.6,0.8,1,1.2,1.4,1.6,1.8,2],"labels":false,"title":null}}},"layer":[
{"data":{"name":"ps"},"mark":{"type":"area","color":"black","clip":true},"encoding":{"y":{"field":"l4","type":"quantitative","scale":{"domain":[0,4.8],"nice":false,"zero":false},"axis":{"values":[0,1,2,3,4],"labels":false,"title":null}},"y2":{"field":"h4"}}},
{"data":{"name":"sp"},"transform":[{"filter":"datum.p==4"}],"mark":{"type":"rule","color":"black","strokeWidth":1.1,"clip":true},"encoding":{"y":{"field":"y","type":"quantitative","title":null},"y2":{"field":"z"}}}]},
{"width":440,"height":45,"encoding":{"x":{"field":"f","type":"quantitative","scale":{"domain":[0,2],"nice":false},"axis":{"values":[0,0.2,0.4,0.6,0.8,1,1.2,1.4,1.6,1.8,2],"labels":false,"title":null}}},"layer":[
{"data":{"name":"ps"},"mark":{"type":"area","color":"black","clip":true},"encoding":{"y":{"field":"l5","type":"quantitative","scale":{"domain":[0,4.8],"nice":false,"zero":false},"axis":{"values":[0,1,2,3,4],"labels":false,"title":null}},"y2":{"field":"h5"}}},
{"data":{"name":"sp"},"transform":[{"filter":"datum.p==5"}],"mark":{"type":"rule","color":"black","strokeWidth":1.2,"clip":true},"encoding":{"y":{"field":"y","type":"quantitative","title":null},"y2":{"field":"z"}}}]},
{"width":440,"height":45,"encoding":{"x":{"field":"f","type":"quantitative","scale":{"domain":[0,2],"nice":false},"axis":{"values":[0,0.2,0.4,0.6,0.8,1,1.2,1.4,1.6,1.8,2],"format":"~g","title":"Frequency","titlePadding":1}}},"layer":[
{"data":{"name":"ps"},"mark":{"type":"area","color":"black","clip":true},"encoding":{"y":{"field":"l6","type":"quantitative","scale":{"domain":[0,4.8],"nice":false,"zero":false},"axis":{"values":[0,1,2,3,4],"labels":false,"title":null}},"y2":{"field":"h6"}}},
{"data":{"name":"sp"},"transform":[{"filter":"datum.p==6"}],"mark":{"type":"rule","color":"black","strokeWidth":1.2,"clip":true},"encoding":{"y":{"field":"y","type":"quantitative","title":null},"y2":{"field":"z"}}}]}
]}]},
{"title":{"text":"(c) Poincaré map","orient":"bottom","anchor":"middle","fontSize":15,"offset":14,"dx":-16},
"vconcat":[{"title":{"text":"x(t − τ) [0.5 units division⁻¹]","orient":"left","anchor":"middle","fontSize":12.5,"offset":15,"dx":4},
"spacing":7.2,
"vconcat":[
{"width":46,"height":45,"encoding":{"x":{"field":"x","type":"quantitative","scale":{"domain":[0,1.5],"nice":false,"zero":false},"axis":{"values":[0,0.5,1,1.5],"labels":false,"title":null}},"y":{"field":"y","type":"quantitative","scale":{"domain":[0,2.4],"nice":false,"zero":false},"axis":{"values":[0,0.5,1,1.5,2],"labels":false,"title":null}}},"layer":[
{"data":{"name":"pc"},"transform":[{"filter":"datum.p==1 && datum.m=='l'"}],"mark":{"type":"line","color":"black","strokeWidth":1.6,"clip":true},"encoding":{"order":{"field":"o"}}},
{"data":{"name":"pc"},"transform":[{"filter":"datum.p==1 && datum.m=='s'"}],"mark":{"type":"point","shape":"square","filled":true,"color":"black","size":7,"opacity":1,"clip":true}},
{"data":{"name":"lab"},"transform":[{"filter":"datum.p==1"}],"mark":{"type":"text","align":"left","baseline":"middle","font":"Liberation Serif","fontStyle":"italic","fontSize":16,"color":"black"},"encoding":{"text":{"field":"a"}}},
{"data":{"name":"lab"},"transform":[{"filter":"datum.p==1"}],"mark":{"type":"text","align":"left","baseline":"middle","font":"Liberation Serif","fontSize":16,"dx":14,"color":"black"},"encoding":{"text":{"field":"s"}}}]},
{"width":46,"height":45,"encoding":{"x":{"field":"x","type":"quantitative","scale":{"domain":[0,1.5],"nice":false,"zero":false},"axis":{"values":[0,0.5,1,1.5],"labels":false,"title":null}},"y":{"field":"y","type":"quantitative","scale":{"domain":[0,2.4],"nice":false,"zero":false},"axis":{"values":[0,0.5,1,1.5,2],"labels":false,"title":null}}},"layer":[
{"data":{"name":"pc"},"transform":[{"filter":"datum.p==2 && datum.m=='l'"}],"mark":{"type":"line","color":"black","strokeWidth":1.6,"clip":true},"encoding":{"order":{"field":"o"}}},
{"data":{"name":"pc"},"transform":[{"filter":"datum.p==2 && datum.m=='s'"}],"mark":{"type":"point","shape":"square","filled":true,"color":"black","size":7,"opacity":1,"clip":true}},
{"data":{"name":"lab"},"transform":[{"filter":"datum.p==2"}],"mark":{"type":"text","align":"left","baseline":"middle","font":"Liberation Serif","fontStyle":"italic","fontSize":16,"color":"black"},"encoding":{"text":{"field":"a"}}},
{"data":{"name":"lab"},"transform":[{"filter":"datum.p==2"}],"mark":{"type":"text","align":"left","baseline":"middle","font":"Liberation Serif","fontSize":16,"dx":14,"color":"black"},"encoding":{"text":{"field":"s"}}}]},
{"width":46,"height":45,"encoding":{"x":{"field":"x","type":"quantitative","scale":{"domain":[0,1.5],"nice":false,"zero":false},"axis":{"values":[0,0.5,1,1.5],"labels":false,"title":null}},"y":{"field":"y","type":"quantitative","scale":{"domain":[0,2.4],"nice":false,"zero":false},"axis":{"values":[0,0.5,1,1.5,2],"labels":false,"title":null}}},"layer":[
{"data":{"name":"pc"},"transform":[{"filter":"datum.p==3 && datum.m=='l'"}],"mark":{"type":"line","color":"black","strokeWidth":1.6,"clip":true},"encoding":{"order":{"field":"o"}}},
{"data":{"name":"pc"},"transform":[{"filter":"datum.p==3 && datum.m=='s'"}],"mark":{"type":"point","shape":"square","filled":true,"color":"black","size":5,"opacity":1,"clip":true}},
{"data":{"name":"lab"},"transform":[{"filter":"datum.p==3"}],"mark":{"type":"text","align":"left","baseline":"middle","font":"Liberation Serif","fontStyle":"italic","fontSize":16,"color":"black"},"encoding":{"text":{"field":"a"}}},
{"data":{"name":"lab"},"transform":[{"filter":"datum.p==3"}],"mark":{"type":"text","align":"left","baseline":"middle","font":"Liberation Serif","fontSize":16,"dx":14,"color":"black"},"encoding":{"text":{"field":"s"}}}]},
{"width":46,"height":45,"encoding":{"x":{"field":"x","type":"quantitative","scale":{"domain":[0,1.5],"nice":false,"zero":false},"axis":{"values":[0,0.5,1,1.5],"labels":false,"title":null}},"y":{"field":"y","type":"quantitative","scale":{"domain":[0,2.4],"nice":false,"zero":false},"axis":{"values":[0,0.5,1,1.5,2],"labels":false,"title":null}}},"layer":[
{"data":{"name":"pc"},"transform":[{"filter":"datum.p==4 && datum.m=='l'"}],"mark":{"type":"line","color":"black","strokeWidth":1.6,"clip":true},"encoding":{"order":{"field":"o"}}},
{"data":{"name":"pc"},"transform":[{"filter":"datum.p==4 && datum.m=='s'"}],"mark":{"type":"point","shape":"square","filled":true,"color":"black","size":7,"opacity":1,"clip":true}},
{"data":{"name":"lab"},"transform":[{"filter":"datum.p==4"}],"mark":{"type":"text","align":"left","baseline":"middle","font":"Liberation Serif","fontStyle":"italic","fontSize":16,"color":"black"},"encoding":{"text":{"field":"a"}}},
{"data":{"name":"lab"},"transform":[{"filter":"datum.p==4"}],"mark":{"type":"text","align":"left","baseline":"middle","font":"Liberation Serif","fontSize":16,"dx":14,"color":"black"},"encoding":{"text":{"field":"s"}}}]},
{"width":46,"height":45,"encoding":{"x":{"field":"x","type":"quantitative","scale":{"domain":[0,1.5],"nice":false,"zero":false},"axis":{"values":[0,0.5,1,1.5],"labels":false,"title":null}},"y":{"field":"y","type":"quantitative","scale":{"domain":[0,2.4],"nice":false,"zero":false},"axis":{"values":[0,0.5,1,1.5,2],"labels":false,"title":null}}},"layer":[
{"data":{"name":"pc"},"transform":[{"filter":"datum.p==5 && datum.m=='l'"}],"mark":{"type":"line","color":"black","strokeWidth":1.6,"clip":true},"encoding":{"order":{"field":"o"}}},
{"data":{"name":"pc"},"transform":[{"filter":"datum.p==5 && datum.m=='s'"}],"mark":{"type":"point","shape":"square","filled":true,"color":"black","size":7,"opacity":1,"clip":true}},
{"data":{"name":"lab"},"transform":[{"filter":"datum.p==5"}],"mark":{"type":"text","align":"left","baseline":"middle","font":"Liberation Serif","fontStyle":"italic","fontSize":16,"color":"black"},"encoding":{"text":{"field":"a"}}},
{"data":{"name":"lab"},"transform":[{"filter":"datum.p==5"}],"mark":{"type":"text","align":"left","baseline":"middle","font":"Liberation Serif","fontSize":16,"dx":14,"color":"black"},"encoding":{"text":{"field":"s"}}}]},
{"width":46,"height":45,"encoding":{"x":{"field":"x","type":"quantitative","scale":{"domain":[0,1.5],"nice":false,"zero":false},"axis":{"values":[0,0.5,1,1.5],"format":"~g","labelFontSize":10.5,"title":"x(t)","titleFontSize":11,"titlePadding":2}},"y":{"field":"y","type":"quantitative","scale":{"domain":[0,2.4],"nice":false,"zero":false},"axis":{"values":[0,0.5,1,1.5,2],"labels":false,"title":null}}},"layer":[
{"data":{"name":"pc"},"transform":[{"filter":"datum.p==6 && datum.m=='l'"}],"mark":{"type":"line","color":"black","strokeWidth":1.6,"clip":true},"encoding":{"order":{"field":"o"}}},
{"data":{"name":"pc"},"transform":[{"filter":"datum.p==6 && datum.m=='s'"}],"mark":{"type":"point","shape":"square","filled":true,"color":"black","size":7,"opacity":1,"clip":true}},
{"data":{"name":"lab"},"transform":[{"filter":"datum.p==6"}],"mark":{"type":"text","align":"left","baseline":"middle","font":"Liberation Serif","fontStyle":"italic","fontSize":16,"color":"black"},"encoding":{"text":{"field":"a"}}},
{"data":{"name":"lab"},"transform":[{"filter":"datum.p==6"}],"mark":{"type":"text","align":"left","baseline":"middle","font":"Liberation Serif","fontSize":16,"dx":14,"color":"black"},"encoding":{"text":{"field":"s"}}}]}
]}]}
],
"spacing":12
}
